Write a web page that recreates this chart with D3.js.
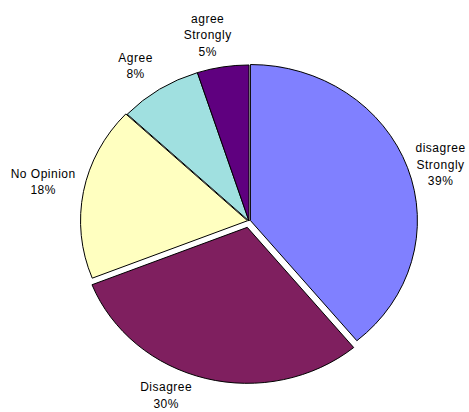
<!DOCTYPE html>
<html>
<head>
<meta charset="utf-8">
<script src="https://cdn.jsdelivr.net/npm/d3@7"></script>
<style>
  html, body { margin: 0; padding: 0; background: #fff; }
  svg { display: block; }
  .lbl { font-family: "Liberation Sans", Arial, sans-serif; font-size: 12px; fill: #000; letter-spacing: 0.5px; }
</style>
</head>
<body>
<svg id="chart" width="469" height="412"></svg>
<script>
// Survey responses, in drawing order (clockwise from 12 o'clock)
const categories = ["disagree Strongly", "Disagree", "No Opinion", "Agree", "agree Strongly"];
const percents   = [39, 30, 18, 8, 5];
const colors     = ["#8080ff", "#7f1f5f", "#ffffc0", "#a0e0e0", "#5f007f"];

// Layout
const W = 469, H = 412;
const cx = 249, cy = 221;
const R = 167;              // horizontal radius
const yScale = 156 / 167;   // pie is drawn slightly flattened
const explode = [1.5, 7, 1.5, 0, 0];
// label placement: base point on a larger ellipse, plus a nudge per slice
const labelRadius = 1.2;
const labelNudge = [[3, 7], [-33, -7], [-9, -4], [-6, 3], [-10, -1]];
const lineH = 16.5;

const svg = d3.select("#chart");

const pie = d3.pie().value(d => d).sort(null);
const arcs = pie(percents);
const arc = d3.arc().innerRadius(0).outerRadius(R);

const g = svg.append("g")
  .attr("transform", `translate(${cx},${cy}) scale(1,${yScale})`);

g.selectAll("path.slice")
  .data(arcs)
  .join("path")
  .attr("class", "slice")
  .attr("d", arc)
  .attr("fill", (d, i) => colors[i])
  .attr("stroke", "#000")
  .attr("stroke-width", 1)
  .attr("vector-effect", "non-scaling-stroke")
  .attr("stroke-linejoin", "miter")
  .attr("transform", (d, i) => {
    const a = (d.startAngle + d.endAngle) / 2;
    return `translate(${Math.sin(a) * explode[i]},${-Math.cos(a) * explode[i]})`;
  });

// Labels: category name (split into words on lines) and percentage
const labels = svg.append("g");
arcs.forEach((d, i) => {
  const a = (d.startAngle + d.endAngle) / 2;
  const x = cx + Math.sin(a) * R * labelRadius + labelNudge[i][0];
  const y = cy - Math.cos(a) * R * yScale * labelRadius + labelNudge[i][1];
  const name = categories[i];
  let lines;
  if (name === "agree Strongly") lines = ["agree", "Strongly"];
  else if (name === "disagree Strongly") lines = ["disagree", "Strongly"];
  else lines = [name];
  lines = lines.concat([percents[i] + "%"]);
  const t = labels.append("text")
    .attr("class", "lbl")
    .attr("text-anchor", "middle");
  lines.forEach((ln, k) => {
    t.append("tspan")
      .attr("x", x)
      .attr("y", y + (k - (lines.length - 1) / 2) * lineH)
      .attr("dominant-baseline", "central")
      .text(ln);
  });
});
</script>
</body>
</html>
